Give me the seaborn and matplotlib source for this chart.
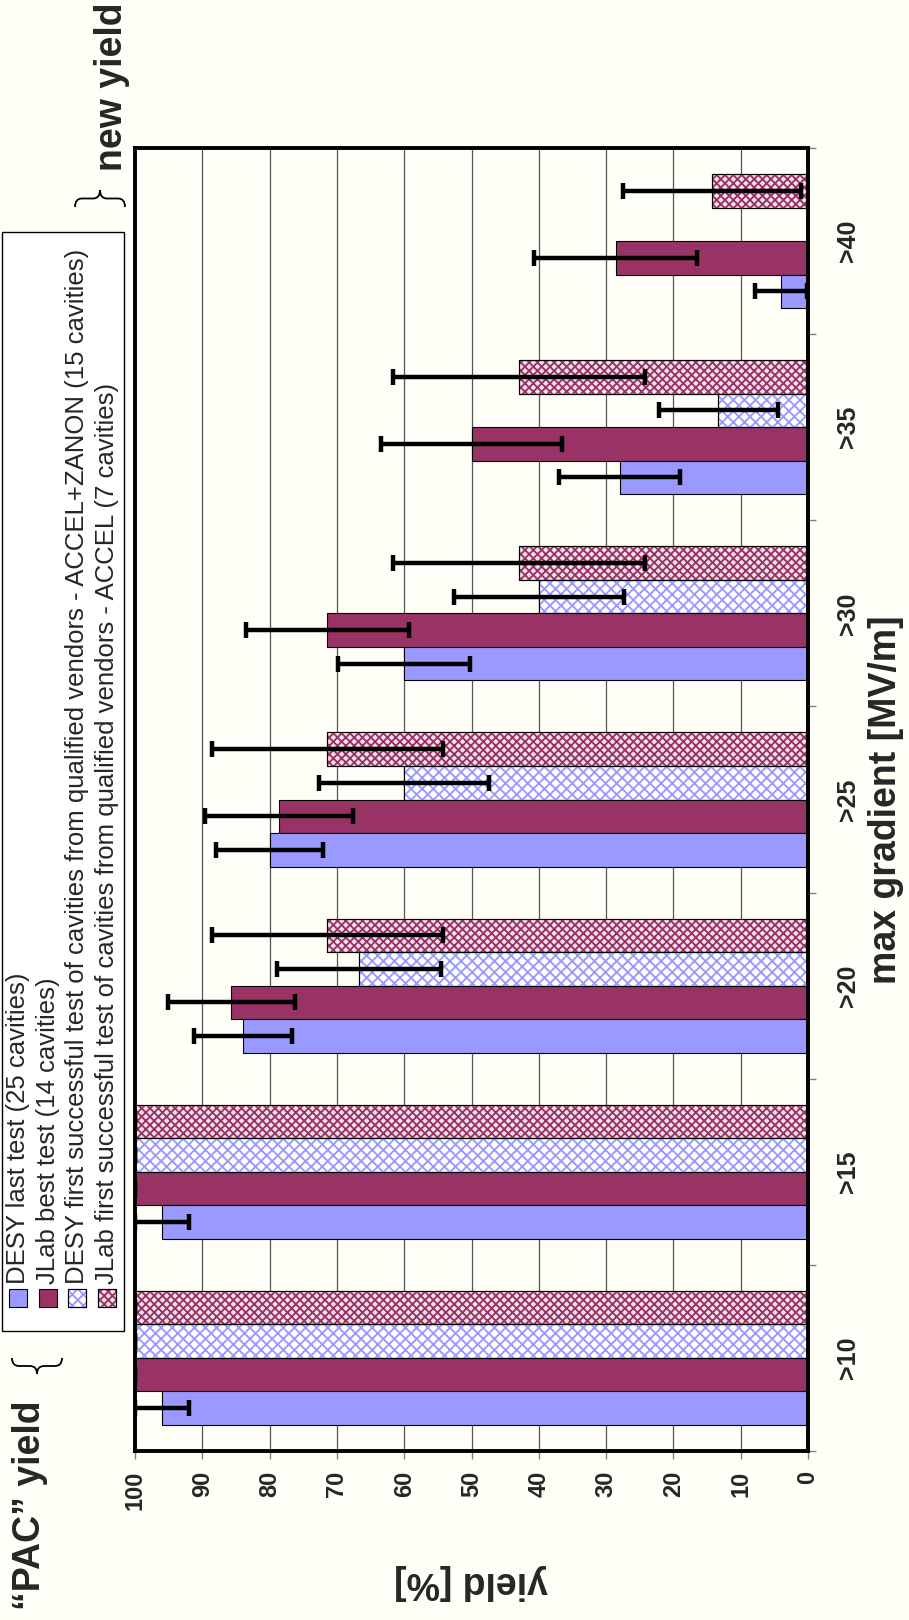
"""
Cavity yield vs. max gradient -- rotated (portrait) bar chart with error bars.
"""

import numpy as np
import pandas as pd
import matplotlib
matplotlib.use("Agg")
import matplotlib.pyplot as plt
from matplotlib.patches import Rectangle, PathPatch
from matplotlib.path import Path
import seaborn as sns

# ──────────────────────────────────────────────
# Data
# ──────────────────────────────────────────────
gradients = [">10", ">15", ">20", ">25", ">30", ">35", ">40"]
series_names = [
    "DESY last test (25 cavities)",
    "JLab best test (14 cavities)",
    "DESY first successful test of cavities from qualified vendors - ACCEL+ZANON (15 cavities)",
    "JLab first successful test of cavities from qualified vendors - ACCEL (7 cavities)",
]
desy_last = [96, 96, 84, 80, 60, 28, 4]
desy_last_err = [4, 4, 7.3, 8, 9.8, 9, 3.9]
jlab_best = [100, 100, 85.7, 78.6, 71.4, 50, 28.6]
jlab_best_err = [0, 0, 9.4, 11, 12.1, 13.4, 12.1]
desy_first = [100, 100, 66.7, 60, 40, 13.3, 0]
desy_first_err = [0, 0, 12.2, 12.6, 12.6, 8.8, 0]
jlab_first = [100, 100, 71.4, 71.4, 42.9, 42.9, 14.3]
jlab_first_err = [0, 0, 17.1, 17.1, 18.7, 18.7, 13.2]
yield_ticks = list(range(0, 101, 10))

values = dict(zip(series_names, [desy_last, jlab_best, desy_first, jlab_first]))
errors = dict(zip(series_names, [desy_last_err, jlab_best_err, desy_first_err, jlab_first_err]))

df = pd.DataFrame(
    [(g, s, values[s][i]) for s in series_names for i, g in enumerate(gradients)],
    columns=["gradient", "series", "yield"],
)

# ──────────────────────────────────────────────
# Style
# ──────────────────────────────────────────────
W, H = 909, 1620
BG = "#FFFFF7"
BLUE = "#9999FF"
MAROON = "#993366"

sns.set_theme(style="white")
plt.rcParams["font.family"] = ["Liberation Sans", "DejaVu Sans"]
plt.rcParams["hatch.linewidth"] = 1.35


def fx(x):
    return x / W


def fy(y):
    return 1 - y / H


fig = plt.figure(figsize=(W / 100, H / 100), dpi=100, facecolor=BG)
ax = fig.add_axes([fx(135), fy(1451), (808 - 135) / W, (1451 - 148) / H])
ax.set_facecolor(BG)

order = gradients[::-1]                      # >40 on top
hue_order = series_names[::-1]               # pink on top inside a group
palette = {series_names[0]: BLUE, series_names[1]: MAROON,
           series_names[2]: "white", series_names[3]: "#F2E0EA"}
hatches = {series_names[2]: ("xxx", BLUE), series_names[3]: ("xxxx", MAROON)}

sns.barplot(
    data=df, x="yield", y="gradient", hue="series",
    order=order, hue_order=hue_order, palette=palette, saturation=1,
    orient="h", width=0.72, edgecolor="black", linewidth=0.8,
    errorbar=None, legend=False, ax=ax,
)

for cont, name in zip(ax.containers, hue_order):
    ys, xs, es = [], [], []
    for p, g in zip(cont.patches, order):
        i = gradients.index(g)
        if name in hatches:
            h, c = hatches[name]
            ax.add_patch(Rectangle((p.get_x(), p.get_y()), p.get_width(), p.get_height(),
                                   fill=False, hatch=h, edgecolor=c, linewidth=0,
                                   zorder=p.get_zorder() + 0.1))
            ax.add_patch(Rectangle((p.get_x(), p.get_y()), p.get_width(), p.get_height(),
                                   fill=False, edgecolor="black", linewidth=0.8,
                                   zorder=p.get_zorder() + 0.2))
        if values[name][i] > 0:
            ys.append(p.get_y() + p.get_height() / 2)
            xs.append(values[name][i])
            es.append(errors[name][i])
    ax.errorbar(xs, ys, xerr=es, fmt="none", ecolor="black",
                elinewidth=3.2, capsize=6, capthick=3.2, zorder=6)

# axes
ax.set_xlim(100, 0)
ax.set_ylim(len(order) - 0.5, -0.5)
ax.set_xticks(yield_ticks)
ax.set_xticklabels([str(t) for t in yield_ticks], rotation=90,
                   fontsize=17, fontweight="bold")
ax.tick_params(axis="x", which="major", direction="out", length=6, width=1,
               color="#808080", pad=8, bottom=True)

ax.yaxis.tick_right()
ax.set_yticks(range(len(order)))
ax.set_yticklabels(order, rotation=90, fontsize=18, fontweight="bold", va="center")
ax.set_yticks(np.arange(-0.5, len(order), 1), minor=True)
ax.tick_params(axis="y", which="major", length=0, pad=20,
               right=True, left=False, labelright=True, labelleft=False)
ax.tick_params(axis="y", which="minor", direction="out", length=6, width=1,
               color="#808080", right=True, left=False)

ax.xaxis.grid(True, color="#555555", linewidth=0.9)
ax.yaxis.grid(False)
ax.set_axisbelow(True)
for s in ax.spines.values():
    s.set_visible(True)
    s.set_linewidth(2.8)
    s.set_color("black")

ax.set_xlabel("yield [%]", fontsize=27, fontweight="bold", rotation=180)
ax.xaxis.set_label_coords(0.5, -(1582 - 1451) / 1303)
ax.xaxis.label.set_va("center")

ax.set_ylabel("max gradient [MV/m]", fontsize=27, fontweight="bold")
ax.yaxis.set_label_position("right")
ax.yaxis.set_label_coords((886 - 135) / 673, 0.5)
ax.yaxis.label.set_va("center")

# ──────────────────────────────────────────────
# Hand-made legend (rotated text)
# ──────────────────────────────────────────────
fig.add_artist(Rectangle((fx(2), fy(1331)), fx(122), (1331 - 232) / H,
                         transform=fig.transFigure, facecolor="white",
                         edgecolor="black", linewidth=1))
leg_x = [18, 48, 77, 107]
for xc, name in zip(leg_x, series_names):
    fill = palette[name]
    fig.add_artist(Rectangle((fx(xc - 9), fy(1307)), 18 / W, 18 / H,
                             transform=fig.transFigure, facecolor=fill,
                             edgecolor="black", linewidth=0.8))
    if name in hatches:
        h, c = hatches[name]
        fig.add_artist(Rectangle((fx(xc - 9), fy(1307)), 18 / W, 18 / H,
                                 transform=fig.transFigure, fill=False,
                                 hatch=h, edgecolor=c, linewidth=0))
        fig.add_artist(Rectangle((fx(xc - 9), fy(1307)), 18 / W, 18 / H,
                                 transform=fig.transFigure, fill=False,
                                 edgecolor="black", linewidth=0.8))
    fig.text(fx(xc), fy(1284), name, rotation=90, ha="center", va="bottom",
             fontsize=18.5)


def brace(x0, x1, y_arm, y_tip):
    """Horizontal curly brace in figure pixels, tip in the middle."""
    xc = (x0 + x1) / 2
    ym = (y_arm + y_tip) / 2
    q = 7
    pts = [(x0, y_arm), (x0, ym), (x0 + q, ym), (xc - q, ym), (xc, ym), (xc, y_tip),
           (xc, ym), (xc + q, ym), (x1 - q, ym), (x1, ym), (x1, y_arm)]
    codes = [Path.MOVETO, Path.CURVE3, Path.CURVE3, Path.LINETO, Path.CURVE3, Path.CURVE3,
             Path.CURVE3, Path.CURVE3, Path.LINETO, Path.CURVE3, Path.CURVE3]
    verts = [(fx(x), fy(y)) for x, y in pts]
    fig.add_artist(PathPatch(Path(verts, codes), transform=fig.transFigure,
                             fill=False, edgecolor="black", linewidth=1.3))


brace(12, 62, 1358, 1374)
brace(75, 125, 207, 190)

fig.text(fx(30), fy(1505), "\u201cPAC\u201d yield", rotation=90, ha="center",
         va="center", fontsize=27, fontweight="bold")
fig.text(fx(112), fy(87), "new yield", rotation=90, ha="center",
         va="center", fontsize=27, fontweight="bold")

fig.savefig("out.png", dpi=100, facecolor=BG)
plt.close(fig)
